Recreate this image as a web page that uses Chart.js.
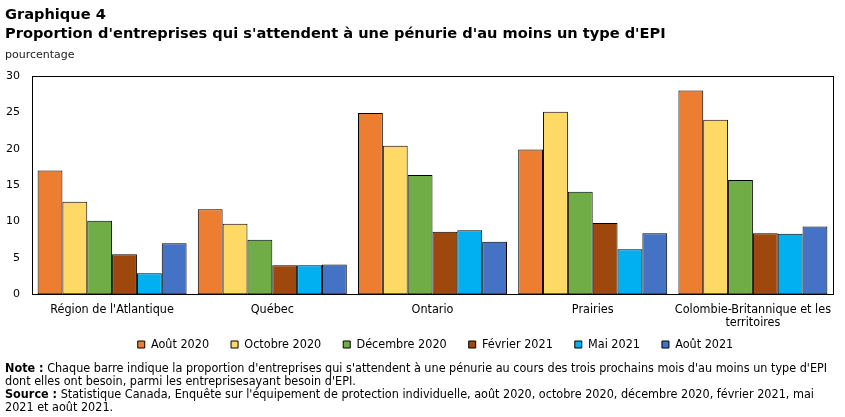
<!DOCTYPE html>
<html>
<head>
<meta charset="utf-8">
<script src="https://cdn.jsdelivr.net/npm/chart.js@4.4.1/dist/chart.umd.min.js"></script>
<style>
  body { margin: 0; background: #fff; }
  #wrap { position: relative; width: 845px; height: 417px; overflow: hidden; }
  #chart { position: absolute; left: 0; top: 0; }
  .txt { position: absolute; left: 5px; color: #000; white-space: nowrap; }
  #title { top: 4px; font: bold 14.6px "DejaVu Sans", sans-serif; line-height: 19px; }
  #unit { top: 48px; font: 11px "DejaVu Sans", sans-serif; color: #222; }
  #notes { top: 361px; font: 12.5px "DejaVu Sans Condensed", "DejaVu Sans", sans-serif; line-height: 13px; }
</style>
</head>
<body>
<div id="wrap">
  <canvas id="chart" width="845" height="417"></canvas>
  <div id="title" class="txt">Graphique 4<br>Proportion d'entreprises qui s'attendent à une pénurie d'au moins un type d'EPI</div>
  <div id="unit" class="txt">pourcentage</div>
  <div id="notes" class="txt"><b>Note :</b> Chaque barre indique la proportion d'entreprises qui s'attendent à une pénurie au cours des trois prochains mois d'au moins un type d'EPI<br>dont elles ont besoin, parmi les entreprisesayant besoin d'EPI.<br><b>Source :</b> Statistique Canada, Enquête sur l'équipement de protection individuelle, août 2020, octobre 2020, décembre 2020, février 2021, mai<br>2021 et août 2021.</div>
</div>
<script>
// regions (x axis)
const regions = [
    "Région de l'Atlantique",
    'Québec',
    'Ontario',
    'Prairies',
    ['Colombie-Britannique et les', 'territoires']
];

// survey waves
const waves = ['Août 2020', 'Octobre 2020', 'Décembre 2020', 'Février 2021', 'Mai 2021', 'Août 2021'];
const waveColors = ['#ED7D31', '#FFD966', '#70AD47', '#9E480E', '#00B0F0', '#4472C4'];

// percentages, one array per wave, in region order
const aout2020 = [17.0, 11.7, 24.9, 19.9, 28.0];
const octobre2020 = [12.7, 9.7, 20.4, 25.1, 24.0];
const decembre2020 = [10.1, 7.5, 16.4, 14.1, 15.7];
const fevrier2021 = [5.5, 4.0, 8.6, 9.8, 8.4];
const mai2021 = [2.9, 4.0, 8.8, 6.2, 8.3];
const aout2021 = [7.0, 4.1, 7.2, 8.4, 9.3];

const yTicks = [0, 5, 10, 15, 20, 25, 30];

const seriesValues = [aout2020, octobre2020, decembre2020, fevrier2021, mai2021, aout2021];

let datasets = [];
for (let i in waves) {
    datasets.push({
        label: waves[i],
        data: seriesValues[i],
        backgroundColor: waveColors[i],
        borderColor: '#000',
        borderWidth: 1,
        borderSkipped: false,
        barPercentage: 1.0,
        categoryPercentage: 0.93
    });
}

// box around the plot area
const frame = {
    id: 'frame',
    afterDatasetsDraw(chart) {
        const a = chart.chartArea;
        const ctx = chart.ctx;
        ctx.save();
        ctx.strokeStyle = '#000';
        ctx.lineWidth = 1;
        ctx.strokeRect(Math.round(a.left) + 0.5, Math.round(a.top) + 0.5, Math.round(a.right - a.left), Math.round(a.bottom - a.top));
        ctx.restore();
    }
};

// pull the legend up closer to the category labels, nudge it right
const legendUp = {
    id: 'legendUp',
    afterLayout(chart) {
        const lg = chart.legend;
        const h = lg.bottom - lg.top;
        lg.top = chart.chartArea.bottom + 22;
        lg.bottom = lg.top + h;
        lg.left += 19;
        lg.right += 19;
    }
};

const condensed = '"DejaVu Sans Condensed", "DejaVu Sans", sans-serif';
Chart.defaults.font.family = '"DejaVu Sans", sans-serif';
Chart.defaults.color = '#000';

new Chart('chart', {
    type: 'bar',
    data: { labels: regions, datasets: datasets },
    plugins: [frame, legendUp],
    options: {
        responsive: false,
        animation: false,
        layout: { padding: { left: 0, top: 76, right: 12, bottom: 34 } },
        plugins: {
            legend: {
                position: 'bottom',
                labels: {
                    boxWidth: 7,
                    boxHeight: 7,
                    padding: 22,
                    font: { size: 12.5, family: condensed }
                }
            },
            tooltip: { enabled: false }
        },
        scales: {
            x: {
                grid: { display: false, drawTicks: false },
                border: { display: false },
                afterFit: function(axis) {
                    axis.paddingLeft = 0;
                    axis.paddingRight = 0;
                },
                ticks: {
                    maxRotation: 0,
                    autoSkip: false,
                    padding: 9,
                    font: { size: 12.5, family: condensed, lineHeight: 1.05 }
                }
            },
            y: {
                min: 0,
                max: 30,
                afterBuildTicks: function(axis) {
                    axis.ticks = yTicks.map(v => ({ value: v }));
                },
                afterFit: function(axis) { axis.width = 32; },
                grid: { display: false, drawTicks: false },
                border: { display: false },
                ticks: {
                    padding: 12,
                    font: { size: 11 }
                }
            }
        }
    }
});
</script>
</body>
</html>
